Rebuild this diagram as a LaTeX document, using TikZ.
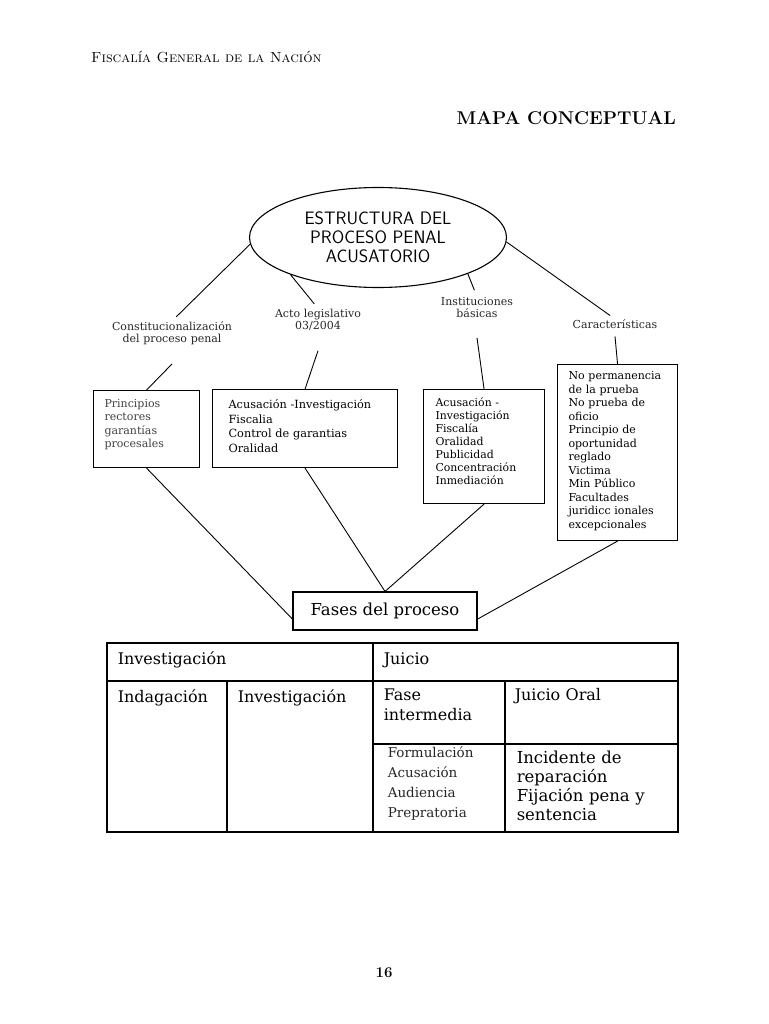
\documentclass[tikz,border=0pt]{standalone}
\usepackage{fontspec}
\usetikzlibrary{shapes.geometric}
\newfontfamily\dvs{DejaVu Serif}
\def\fsz#1#2{\dvs\fontsize{#1}{#2}\selectfont}

\begin{document}
\begin{tikzpicture}[x=1pt,y=-1pt,
  box/.style={draw,line width=1.1pt,anchor=north west,align=left,inner ysep=0pt},
  cell/.style={draw,line width=1.5pt,anchor=north west,align=left,inner ysep=0pt},
  lbl/.style={anchor=base,align=center,inner sep=0pt,text width=150pt,text=black!85,font=\fsz{11}{12.5}},
  ln/.style={draw,line width=0.9pt}]
  \useasboundingbox (0,0) rectangle (768,1024);

  \node[anchor=base west,inner sep=0pt,font=\fontsize{14.6}{16}\selectfont] (hd) at (91,63) {\textsc{Fiscalía General de la Nación}};
  \node[anchor=base east,inner sep=0pt,font=\bfseries\fontsize{18.5}{20}\selectfont] (ttl) at (676,125) {MAPA CONCEPTUAL};

  \node[draw,ellipse,line width=1.1pt,minimum width=257pt,minimum height=100pt,inner sep=0pt,align=center,
    font=\sffamily\fontsize{18}{19}\selectfont] (ell) at (378,237.5) {ESTRUCTURA DEL\\PROCESO PENAL\\ACUSATORIO};

  \node[lbl] (con) at (172,330) {Constitucionalización\\del proceso penal};
  \node[lbl] (act) at (318,317) {Acto legislativo\\03/2004};
  \node[lbl] (ins) at (477,305) {Instituciones\\básicas};
  \node[lbl] (car) at (615,328) {Características};

  \node[box,inner xsep=11pt,text width=84pt,text height=17pt,text depth=60pt,text=black!75,font=\fsz{11}{13.3}] (b1) at (93,390)
    {Principios\\rectores\\garantías\\procesales};
  \node[box,inner xsep=16pt,text width=153pt,text height=19pt,text depth=59pt,font=\fsz{11.3}{14.7}] (b2) at (212,389)
    {Acusación -Investigación\\Fiscalia\\Control de garantias\\Oralidad};
  \node[box,inner xsep=12pt,text width=97pt,text height=17pt,text depth=97pt,font=\fsz{10.9}{13}] (b3) at (423,389)
    {Acusación -\\Investigación\\Fiscalía\\Oralidad\\Publicidad\\Concentración\\Inmediación};
  \node[box,inner xsep=11pt,text width=98pt,text height=15pt,text depth=161pt,font=\fsz{11}{13.5}] (b4) at (557,364)
    {No permanencia\\de la prueba\\No prueba de\\oficio\\Principio de\\oportunidad\\reglado\\Victima\\Min Público\\Facultades\\juridicc ionales\\excepcionales};

  \node[draw,line width=1.1pt,minimum width=184pt,minimum height=38pt,inner sep=0pt,font=\fsz{16.5}{18}] (fas) at (385,611) {Fases del proceso};

  \draw[ln,shorten >=6pt] (ell.183) -- (con.north);
  \draw[ln,shorten >=6pt] (ell.203) -- (act.north);
  \draw[ln,shorten >=7pt] (ell.338) -- (ins.north);
  \draw[ln,shorten >=6pt] (ell.358) -- (car.north);

  \draw[ln] ([yshift=-19pt]con.south) -- (b1.north);
  \draw[ln] ([yshift=-20pt]act.south) -- (b2.north);
  \draw[ln] ([yshift=-20pt]ins.south) -- (b3.north);
  \draw[ln] ([yshift=-8pt]car.south) -- (b4.north);

  \draw[ln] (b1.south) -- (fas.185);
  \draw[ln] (b2.south) -- (fas.north);
  \draw[ln] (b3.south) -- (fas.north);
  \draw[ln] (b4.south) -- (fas.-5);

  % tabla de fases
  \node[cell,inner xsep=11pt,text width=244pt,text height=22pt,text depth=16pt,font=\fsz{16}{20}] (inv) at (106,642) {Investigación};
  \node[cell,inner xsep=11pt,text width=283pt,text height=22pt,text depth=16pt,font=\fsz{16}{20}] (jui) at (372,642) {Juicio};
  \node[cell,inner xsep=11pt,text width=98pt,text height=22pt,text depth=129pt,font=\fsz{16}{20}] (ind) at (106,680) {Indagación};
  \node[cell,inner xsep=11pt,text width=124pt,text height=22pt,text depth=129pt,font=\fsz{16}{20}] (ivs) at (226,680) {Investigación};
  \node[cell,inner xsep=11pt,text width=110pt,text height=20pt,text depth=43pt,font=\fsz{16}{20}] (fin) at (372,680) {Fase\\intermedia};
  \node[cell,inner xsep=10pt,text width=153pt,text height=20pt,text depth=43pt,font=\fsz{16}{20}] (ora) at (504,680) {Juicio Oral};
  \node[cell,inner xsep=15pt,text width=102pt,text height=14pt,text depth=74pt,text=black!85,font=\fsz{13.5}{20}] (frm) at (372,743)
    {Formulación\\Acusación\\Audiencia\\Prepratoria};
  \node[cell,inner xsep=12pt,text width=149pt,text height=20pt,text depth=68pt,font=\fsz{16.5}{19}] (inc) at (504,743)
    {Incidente de\\reparación\\Fijación pena y\\sentencia};

  \node[anchor=base,inner sep=0pt,font=\bfseries\fontsize{15}{18}\selectfont] (pg) at (384,977) {16};
\end{tikzpicture}
\end{document}
